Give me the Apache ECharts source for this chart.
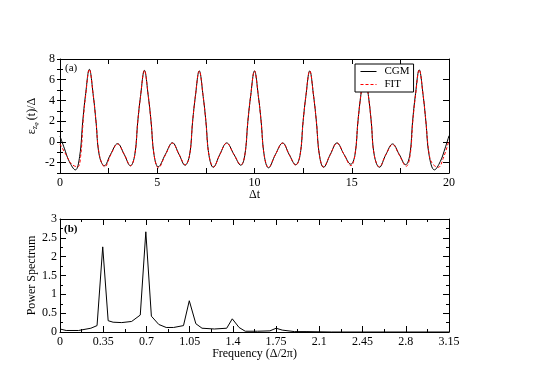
<!DOCTYPE html>
<html>
<head>
<meta charset="utf-8">
<title>CGM vs FIT</title>
<script src="https://cdn.jsdelivr.net/npm/echarts@6/dist/echarts.min.js"></script>
<style>
  html, body { margin: 0; padding: 0; background: #fff; }
  #chart { width: 540px; height: 382px; }
</style>
</head>
<body>
<div id="chart"></div>
<script>
// panel (a): time signal, [t, value]
const cgmData = [
  [0, 0.57], [0.22, -0.6], [0.48, -1.9], [0.79, -2.7], [1.01, -1.4], [1.17, 2.0], [1.31, 4.5], [1.51, 7.0],
  [1.71, 4.5], [1.85, 2.0], [2.02, -1.3], [2.28, -2.3], [2.6, -1.2], [2.96, -0.17], [3.3, -1.2], [3.62, -2.3],
  [3.84, -1.3], [4.0, 2.0], [4.14, 4.4], [4.34, 6.9], [4.54, 4.4], [4.68, 2.0], [4.84, -1.3], [5.05, -2.4],
  [5.42, -1.2], [5.78, -0.08], [6.12, -1.2], [6.43, -2.25], [6.66, -1.3], [6.82, 2.0], [6.96, 4.4], [7.16, 6.85],
  [7.36, 4.4], [7.5, 2.0], [7.66, -1.3], [7.88, -2.45], [8.22, -1.2], [8.57, -0.1], [8.94, -1.2], [9.3, -2.25],
  [9.5, -1.3], [9.66, 2.0], [9.8, 4.4], [10.0, 6.85], [10.2, 4.4], [10.34, 2.0], [10.5, -1.3], [10.72, -2.5],
  [11.08, -1.2], [11.45, -0.1], [11.78, -1.2], [12.12, -2.2], [12.34, -1.3], [12.5, 2.0], [12.64, 4.4], [12.84, 6.85],
  [13.04, 4.4], [13.18, 2.0], [13.34, -1.3], [13.55, -2.45], [13.9, -1.2], [14.24, -0.1], [14.6, -1.2], [14.95, -2.15],
  [15.16, -1.3], [15.32, 2.0], [15.46, 4.4], [15.66, 6.9], [15.86, 4.4], [16.0, 2.0], [16.16, -1.3], [16.42, -2.45],
  [16.76, -1.2], [17.1, -0.2], [17.44, -1.2], [17.77, -2.2], [17.98, -1.3], [18.13, 2.0], [18.27, 4.5], [18.47, 6.95],
  [18.67, 4.5], [18.81, 2.0], [18.98, -1.3], [19.25, -2.7], [19.55, -1.9], [19.8, -0.6], [20, 0.6]
]
const fitData = [
  [0, -0.2], [0.3, -1.2], [0.6, -2.15], [0.91, -2.4], [1.06, -1.4], [1.19, 2.0], [1.32, 4.5], [1.51, 7.0],
  [1.71, 4.5], [1.85, 2.0], [2.03, -1.3], [2.3, -2.4], [2.62, -1.2], [2.96, -0.2], [3.3, -1.2], [3.63, -2.3],
  [3.84, -1.3], [4.0, 2.0], [4.14, 4.4], [4.34, 6.9], [4.54, 4.4], [4.68, 2.0], [4.84, -1.3], [5.06, -2.5],
  [5.42, -1.25], [5.78, -0.12], [6.12, -1.2], [6.44, -2.2], [6.66, -1.3], [6.82, 2.0], [6.96, 4.4], [7.16, 6.85],
  [7.36, 4.4], [7.5, 2.0], [7.66, -1.3], [7.9, -2.4], [8.22, -1.2], [8.57, -0.12], [8.94, -1.2], [9.3, -2.2],
  [9.5, -1.3], [9.66, 2.0], [9.8, 4.4], [10.0, 6.85], [10.2, 4.4], [10.34, 2.0], [10.5, -1.3], [10.72, -2.45],
  [11.08, -1.2], [11.45, -0.12], [11.78, -1.2], [12.12, -2.25], [12.34, -1.3], [12.5, 2.0], [12.64, 4.4], [12.84, 6.85],
  [13.04, 4.4], [13.18, 2.0], [13.34, -1.3], [13.55, -2.4], [13.9, -1.2], [14.24, -0.12], [14.6, -1.2], [14.96, -2.3],
  [15.16, -1.3], [15.32, 2.0], [15.46, 4.4], [15.66, 6.9], [15.86, 4.4], [16.0, 2.0], [16.16, -1.3], [16.42, -2.4],
  [16.76, -1.2], [17.1, -0.25], [17.44, -1.25], [17.8, -2.35], [18.0, -1.3], [18.14, 2.0], [18.28, 4.5], [18.47, 6.95],
  [18.67, 4.5], [18.81, 2.0], [18.98, -1.2], [19.15, -2.1], [19.45, -2.45], [19.7, -1.6], [20, 0.15]
]
// panel (b): power spectrum, [frequency, power]
const spectrumData = [
  [0, 0.08], [0.05, 0.04], [0.15, 0.04], [0.25, 0.1], [0.3, 0.17], [0.346, 2.26], [0.39, 0.3], [0.43, 0.26],
  [0.5, 0.25], [0.58, 0.28], [0.65, 0.45], [0.695, 2.66], [0.74, 0.42], [0.8, 0.2], [0.86, 0.12], [0.92, 0.12],
  [1.0, 0.17], [1.047, 0.83], [1.1, 0.22], [1.15, 0.1], [1.25, 0.08], [1.35, 0.1], [1.395, 0.35], [1.45, 0.12],
  [1.5, 0.02], [1.6, 0.02], [1.7, 0.03], [1.75, 0.1], [1.8, 0.05], [1.9, 0.01], [2.0, 0.01], [2.2, 0.0], [3.15, 0.0]
]
const topYLabels = [-2, 0, 2, 4, 6, 8]

const FONT = 'Liberation Serif'
const chart = echarts.init(document.getElementById('chart'))

const lineAxis = { show: true, onZero: false, lineStyle: { color: '#000', width: 1 } }
const tickIn = (len) => ({ show: true, inside: true, length: len, lineStyle: { color: '#000', width: 1 } })
const labelStyle = { color: '#000', fontFamily: FONT, fontSize: 12 }
const nameStyle = { color: '#000', fontFamily: FONT, fontSize: 12 }

// mirror axis, only ticks
const mirror = (base) => Object.assign({ axisLabel: { show: false }, splitLine: { show: false } }, base)

const option = {
  animation: false,
  backgroundColor: '#fff',
  grid: [
    { left: 60, right: 91, top: 59, height: 114 },
    { left: 60, right: 91, top: 219, height: 113 }
  ],
  legend: {
    left: 355,
    top: 64,
    orient: 'vertical',
    data: ['CGM', 'FIT'],
    itemWidth: 16,
    itemHeight: 10,
    itemGap: 2,
    padding: [2, 4, 2, 5],
    backgroundColor: '#fff',
    borderColor: '#000',
    borderWidth: 1,
    borderRadius: 0,
    itemStyle: { opacity: 0 },
    lineStyle: { width: 1 },
    textStyle: { color: '#000', fontFamily: FONT, fontSize: 11, padding: [0, 0, 0, 3] }
  },
  graphic: [
    { type: 'text', left: 65, top: 63, style: { text: '(a)', font: '11px "Liberation Serif"', fill: '#000' } },
    { type: 'text', left: 64, top: 224, style: { text: '(b)', font: 'bold 11px "Liberation Serif"', fill: '#000' } }
  ],
  xAxis: [
    {
      type: 'value', gridIndex: 0, position: 'bottom', min: 0, max: 20, interval: 5,
      axisLine: lineAxis, axisTick: tickIn(5),
      minorTick: { show: true, splitNumber: 2, length: 5, lineStyle: { color: '#000' } },
      axisLabel: Object.assign({ margin: 4 }, labelStyle),
      splitLine: { show: false },
      name: 'Δt', nameLocation: 'middle', nameGap: 16, nameMoveOverlap: false, nameTextStyle: nameStyle
    },
    mirror({
      type: 'value', gridIndex: 0, position: 'top', min: 0, max: 20, interval: 5,
      axisLine: lineAxis, axisTick: tickIn(5),
      minorTick: { show: true, splitNumber: 2, length: 5, lineStyle: { color: '#000' } }
    }),
    {
      type: 'value', gridIndex: 1, position: 'bottom', min: 0, max: 3.15, interval: 0.35,
      axisLine: lineAxis, axisTick: tickIn(6),
      minorTick: { show: true, splitNumber: 2, length: 3, lineStyle: { color: '#000' } },
      axisLabel: Object.assign({ margin: 4, formatter: (v) => String(+v.toFixed(2)) }, labelStyle),
      splitLine: { show: false },
      name: 'Frequency (Δ/2π)', nameLocation: 'middle', nameGap: 16, nameMoveOverlap: false, nameTextStyle: nameStyle
    },
    mirror({
      type: 'value', gridIndex: 1, position: 'top', min: 0, max: 3.15, interval: 0.35,
      axisLine: lineAxis, axisTick: tickIn(6),
      minorTick: { show: true, splitNumber: 2, length: 3, lineStyle: { color: '#000' } }
    })
  ],
  yAxis: [
    {
      type: 'value', gridIndex: 0, position: 'left', min: -3, max: 8, interval: 1,
      axisLine: lineAxis,
      axisTick: Object.assign(tickIn(6), { customValues: topYLabels }),
      axisLabel: Object.assign({ margin: 5, customValues: topYLabels }, labelStyle),
      splitLine: { show: false },
      name: '{e|ε}{s|z}{ss|φ}{n|(t)/Δ}', nameLocation: 'middle', nameGap: 21, nameMoveOverlap: false,
      nameTextStyle: {
        color: '#000', fontFamily: FONT,
        rich: {
          e: { fontFamily: FONT, fontSize: 12, color: '#000' },
          s: { fontFamily: FONT, fontSize: 8, color: '#000', verticalAlign: 'bottom', padding: [6, 0, 0, 0] },
          ss: { fontFamily: FONT, fontSize: 6, color: '#000', verticalAlign: 'bottom', padding: [9, 2, 0, 0] },
          n: { fontFamily: FONT, fontSize: 12, color: '#000' }
        }
      }
    },
    mirror({
      type: 'value', gridIndex: 0, position: 'left', min: -3, max: 8, interval: 1,
      axisLine: { show: false }, axisTick: tickIn(3)
    }),
    mirror({
      type: 'value', gridIndex: 0, position: 'right', min: -3, max: 8, interval: 1,
      axisLine: lineAxis, axisTick: Object.assign(tickIn(6), { customValues: topYLabels })
    }),
    mirror({
      type: 'value', gridIndex: 0, position: 'right', min: -3, max: 8, interval: 1,
      axisLine: { show: false }, axisTick: tickIn(3)
    }),
    {
      type: 'value', gridIndex: 1, position: 'left', min: 0, max: 3, interval: 0.5,
      axisLine: lineAxis, axisTick: tickIn(6),
      minorTick: { show: true, splitNumber: 2, length: 3, lineStyle: { color: '#000' } },
      axisLabel: Object.assign({ margin: 3 }, labelStyle),
      splitLine: { show: false },
      name: 'Power Spectrum', nameLocation: 'middle', nameGap: 22, nameMoveOverlap: false, nameTextStyle: nameStyle
    },
    mirror({
      type: 'value', gridIndex: 1, position: 'right', min: 0, max: 3, interval: 0.5,
      axisLine: lineAxis, axisTick: tickIn(6),
      minorTick: { show: true, splitNumber: 2, length: 3, lineStyle: { color: '#000' } }
    })
  ],
  series: [
    {
      name: 'CGM', type: 'line', xAxisIndex: 0, yAxisIndex: 0,
      data: cgmData, smooth: 0.4, symbol: 'none',
      lineStyle: { color: '#000', width: 1 }, itemStyle: { color: '#000' }
    },
    {
      name: 'FIT', type: 'line', xAxisIndex: 0, yAxisIndex: 0,
      data: fitData, smooth: 0.4, symbol: 'none',
      lineStyle: { color: '#ff0000', width: 1, type: [3, 2] }, itemStyle: { color: '#ff0000' }
    },
    {
      name: 'spectrum', type: 'line', xAxisIndex: 2, yAxisIndex: 4,
      data: spectrumData, symbol: 'none',
      lineStyle: { color: '#000', width: 1 }
    }
  ]
}

chart.setOption(option)
</script>
</body>
</html>
